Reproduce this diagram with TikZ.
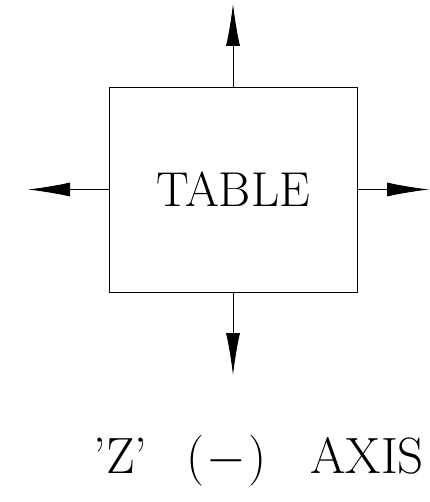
\documentclass[tikz,border=0pt]{standalone}
\usepackage{fix-cm}
\usetikzlibrary{arrows.meta}
\begin{document}
\begin{tikzpicture}[x=1pt,y=-1pt,
  line width=0.8pt,
  tablebox/.style={draw, minimum width=248pt, minimum height=205pt, inner sep=0pt,
    font=\fontsize{49}{58}\selectfont},
  axisarrow/.style={-{Latex[length=42pt,width=14pt]}},
  axislabel/.style={font=\fontsize{51}{60}\selectfont, inner sep=0pt, anchor=base west}]
\useasboundingbox (0,0) rectangle (429,502);
\node[tablebox] (tbl) at (233,189.5) {TABLE};
\coordinate (up) at (233,4);
\coordinate (dn) at (233,375);
\coordinate (lf) at (28,189.5);
\coordinate (rt) at (429,189.5);
\draw[axisarrow] (tbl.north) -- (up);
\draw[axisarrow] (tbl.south) -- (dn);
\draw[axisarrow] (tbl.west) -- (lf);
\draw[axisarrow] (tbl.east) -- (rt);
\node[axislabel] (lbl) at (93,473) {'Z'\hspace{39pt}(\hspace{2pt}$-$\hspace{2pt})\hspace{44pt}AXIS};
\end{tikzpicture}
\end{document}
